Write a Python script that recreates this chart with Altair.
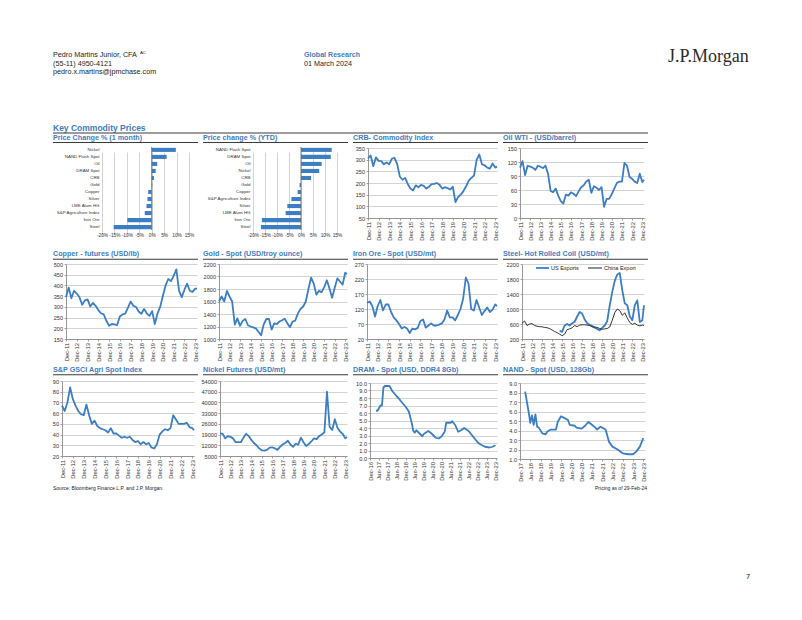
import altair as alt
import pandas as pd

FONT = "Liberation Sans"
SERIF = "Liberation Serif"
BLUE = "#3B7EC3"
TITLE_BLUE = "#3F7CBF"
INK = "#222222"
RULE = "#3A3A3A"
AXC = "#8C8C8C"
XLAB = 5.8
YLAB = 5.6

# ---------------- bar panels ----------------
month_cats = ["Nickel", "NAND Flash Spot", "Oil", "DRAM Spot", "CRB", "Gold", "Copper",
              "Silver", "LME Alum HG", "S&P Agriculture Index", "Iron Ore", "Steel"]
month_vals = [9.7, 6.0, 2.2, 1.6, 0.9, 0.2, -1.4, -1.7, -2.1, -2.8, -9.8, -15.3]
ytd_cats = ["NAND Flash Spot", "DRAM Spot", "Oil", "Nickel", "CRB", "Gold", "Copper",
            "S&P Agriculture Index", "Silver", "LME Alum HG", "Iron Ore", "Steel"]
ytd_vals = [12.8, 12.4, 8.6, 7.6, 4.2, -0.6, -1.4, -4.0, -5.7, -6.4, -16.3, -16.7]
pct_ticks = [-20, -15, -10, -5, 0, 5, 10, 15]

# ---------------- quarterly observations Dec-11 ... Dec-23, then Feb-24 ----------------
quarter_months = []
yy, mm = 2011, 12
for _ in range(49):
    quarter_months.append(f"{yy}-{mm:02d}")
    mm += 3
    if mm > 12:
        mm -= 12
        yy += 1
quarter_months.append("2024-02")

crb = [305, 318, 272, 310, 295, 294, 280, 288, 280, 304, 308, 282, 228, 214, 222, 196, 176,
       168, 190, 182, 192, 188, 176, 184, 195, 196, 200, 192, 176, 182, 178, 172, 184, 118,
       140, 150, 165, 186, 210, 222, 232, 300, 322, 280, 276, 266, 262, 284, 266, 270]
oil = [108, 122, 92, 112, 110, 108, 103, 112, 110, 107, 112, 95, 58, 55, 63, 48, 36, 31, 50,
       48, 55, 52, 47, 57, 66, 70, 78, 82, 54, 68, 65, 60, 66, 24, 41, 41, 51, 63, 75, 78, 78,
       118, 112, 88, 84, 78, 75, 95, 77, 82]
copper = [345, 390, 340, 375, 362, 345, 310, 330, 335, 302, 318, 305, 285, 270, 265, 235, 212,
          220, 218, 215, 255, 265, 268, 295, 325, 305, 300, 278, 268, 290, 270, 258, 280, 220,
          270, 300, 352, 400, 430, 420, 445, 475, 375, 345, 380, 408, 375, 370, 385, 385]
gold = [1600, 1680, 1600, 1770, 1680, 1600, 1230, 1330, 1210, 1290, 1320, 1220, 1200, 1185,
        1170, 1115, 1060, 1235, 1320, 1320, 1150, 1250, 1240, 1280, 1300, 1325, 1250, 1190,
        1280, 1295, 1410, 1480, 1520, 1600, 1800, 1980, 1890, 1710, 1770, 1750, 1830, 1940,
        1810, 1660, 1820, 1970, 1920, 1870, 2060, 2040]
iron = [140, 145, 130, 95, 130, 150, 115, 135, 135, 110, 92, 82, 70, 55, 60, 55, 40, 55, 52, 57,
        80, 85, 58, 65, 72, 65, 65, 68, 72, 85, 115, 92, 92, 82, 100, 120, 155, 225, 205, 120,
        115, 150, 125, 100, 113, 125, 110, 118, 135, 130]
agri = [67, 62, 70, 84, 73, 67, 62, 59, 58, 68, 58, 50, 53, 48, 46, 45, 44, 42, 46, 41, 41, 39,
        37, 38, 37, 38, 35, 33, 34, 31, 33, 31, 32, 28, 27, 31, 40, 43, 45, 44, 46, 58, 54, 50,
        50, 50, 51, 47, 46, 44]
nickel = [20000, 19500, 16500, 18000, 17500, 16500, 14000, 14000, 14000, 17000, 19500, 18000,
          15500, 13500, 12000, 10000, 8700, 8500, 9000, 10500, 10700, 10000, 9000, 11000, 12500,
          13500, 15000, 12500, 11000, 13000, 12500, 17000, 14000, 11500, 12800, 14500, 16500,
          16000, 18000, 19000, 20500, 47000, 24000, 22000, 29000, 23500, 21000, 19500, 16500,
          17500]
steel_china = [620, 680, 560, 600, 610, 560, 540, 530, 525, 510, 500, 480, 440, 400, 370, 330,
               290, 330, 450, 470, 500, 560, 530, 570, 580, 580, 570, 560, 520, 520, 510, 480,
               460, 470, 480, 520, 700, 900, 1000, 960, 830, 900, 760, 640, 590, 620, 570, 550,
               570, 560]
us_months = quarter_months[15:]          # Sep-15 onwards
steel_us = [420, 390, 560, 600, 560, 620, 660, 800, 920, 880, 720, 620, 580, 550, 500, 470, 430,
            500, 560, 680, 1100, 1450, 1750, 1920, 1960, 1500, 1150, 1100, 800, 700, 1100, 1230,
            650, 700, 1100]
steel_series = ["US Exports", "China Export"]

dram_months = ["2017-04", "2017-05", "2017-07", "2017-08", "2017-09", "2017-10", "2018-01",
               "2018-03", "2018-06", "2018-07", "2018-09", "2018-12", "2019-02", "2019-04",
               "2019-05", "2019-06", "2019-07", "2019-09", "2019-11", "2019-12", "2020-03",
               "2020-05", "2020-08", "2020-10", "2020-12", "2021-02", "2021-03", "2021-06",
               "2021-07", "2021-09", "2021-11", "2022-01", "2022-03", "2022-06", "2022-08",
               "2022-10", "2022-12", "2023-02", "2023-05", "2023-08", "2023-10", "2023-12"]
dram = [6.3, 6.3, 7.0, 7.0, 9.4, 9.6, 9.6, 8.9, 8.2, 8.0, 7.5, 6.8, 6.2, 4.6, 3.6, 3.4, 3.7, 3.3,
        2.9, 3.2, 3.6, 3.3, 2.7, 2.6, 2.9, 3.5, 4.7, 4.7, 4.9, 4.4, 3.5, 3.7, 4.0, 3.6, 3.1, 2.6,
        2.1, 1.8, 1.5, 1.4, 1.5, 1.7]
nand_months = ["2018-03", "2018-05", "2018-06", "2018-07", "2018-08", "2018-09", "2018-10",
               "2018-11", "2019-01", "2019-03", "2019-04", "2019-06", "2019-09", "2019-10",
               "2019-12", "2020-02", "2020-04", "2020-05", "2020-08", "2020-09", "2020-12",
               "2021-02", "2021-04", "2021-06", "2021-08", "2021-09", "2021-11", "2022-02",
               "2022-04", "2022-06", "2022-09", "2022-12", "2023-03", "2023-06", "2023-08",
               "2023-10", "2023-12"]
nand = [8.1, 6.0, 4.8, 5.6, 4.6, 5.7, 4.4, 4.3, 3.7, 3.6, 3.9, 4.1, 4.1, 4.9, 5.5, 5.3, 5.1, 4.6,
        4.5, 4.3, 4.2, 4.5, 4.9, 4.6, 4.3, 4.1, 4.4, 4.1, 2.8, 2.3, 2.0, 1.6, 1.5, 1.5, 1.8, 2.3,
        3.2]

# y-axis tick labels
crb_ticks = [50, 100, 150, 200, 250, 300, 350]
oil_ticks = [0, 30, 60, 90, 120, 150]
copper_ticks = [150, 200, 250, 300, 350, 400, 450, 500]
gold_ticks = [1000, 1200, 1400, 1600, 1800, 2000, 2200]
iron_ticks = [20, 70, 120, 170, 220, 270]
steel_ticks = [200, 600, 1000, 1400, 1800, 2200]
agri_ticks = [20, 30, 40, 50, 60, 70, 80, 90]
nickel_ticks = [5000, 12000, 19000, 26000, 33000, 40000, 47000, 54000]
dram_ticks = [0, 1, 2, 3, 4, 5, 6, 7, 8, 9, 10]
nand_ticks = [1, 2, 3, 4, 5, 6, 7, 8, 9]


def dec_year(s):
    y, m = s.split("-")
    return int(y) + (int(m) - 1) / 12.0


MAIN_DOM = [dec_year("2011-12"), dec_year("2024-02")]
MAIN_TICKS = [y + 11 / 12.0 for y in range(2011, 2024)]
DEC_EXPR = "'Dec-' + format(floor(datum.value) % 100, '02d')"
HALF_EXPR = "(datum.value % 1 > 0.6 ? 'Dec-' : 'Jun-') + format(floor(datum.value) % 100, '02d')"
DRAM_DOM = [dec_year("2016-12"), dec_year("2024-01")]
DRAM_TICKS = [dec_year("2016-12") + 0.5 * k for k in range(15)]
NAND_DOM = [dec_year("2017-12"), dec_year("2024-01")]
NAND_TICKS = [dec_year("2017-12") + 0.5 * k for k in range(13)]

# page geometry: a 5 x 4 grid of fixed cells (header, three chart rows, footer)
COL_EDGES = [8, 201, 351, 501, 651]
ROW_EDGES = [8, 134, 248, 365, 484, 600]
TITLE_Y = [None, 138.3, 254.3, 369.5]
LINE_Y = [None, 142.5, 259.3, 374.7]


def one(s):
    return pd.DataFrame({"s": [s]})


def label(s, px, py, ox, oy, size, color=INK, weight="normal", align="left",
          font=FONT, baseline="middle"):
    return alt.Chart(one(s)).mark_text(
        align=align, baseline=baseline, font=font, fontSize=size,
        fontWeight=weight, color=color
    ).encode(x=alt.value(px - ox), y=alt.value(py - oy), text="s:N")


def hrule(l, r, y, ox, oy, color=RULE, width=1.0):
    return alt.Chart(one("")).mark_rule(color=color, strokeWidth=width).encode(
        x=alt.value(l - ox), x2=alt.value(r - ox), y=alt.value(y - oy))


def plain_cell(row, col, layers):
    ox, oy = COL_EDGES[col], ROW_EDGES[row]
    if not layers:
        layers = [label("", ox + 2, oy + 2, ox, oy, 5)]
    return alt.layer(*layers).properties(
        width=COL_EDGES[col + 1] - COL_EDGES[col], height=ROW_EDGES[row + 1] - ROW_EDGES[row])


class Cell:
    def __init__(self, row, col, plotL, plotT, plotR, plotB):
        self.row, self.col = row, col
        self.cl, self.cr = COL_EDGES[col], COL_EDGES[col + 1]
        self.ct, self.cb = ROW_EDGES[row], ROW_EDGES[row + 1]
        self.W = self.cr - self.cl
        self.H = self.cb - self.ct
        self.a = plotL - self.cl
        self.b = plotR - self.cl
        self.c = plotT - self.ct
        self.d = plotB - self.ct

    def frame(self, title):
        ul = 53 + 150 * self.col
        return [hrule(ul, ul + 145, LINE_Y[self.row], self.cl, self.ct, width=1.1),
                label(title, ul, TITLE_Y[self.row], self.cl, self.ct, 7.2, TITLE_BLUE, "bold")]

    def x_enc(self, dom, ticks, expr):
        return alt.X("t:Q", title=None,
                     scale=alt.Scale(domain=dom, range=[self.a, self.b], nice=False, zero=False),
                     axis=alt.Axis(values=ticks, labelExpr=expr, labelAngle=270, grid=False,
                                   labelFlush=False, labelOverlap=False, labelFontSize=XLAB,
                                   labelPadding=1.5, tickSize=2, offset=self.d - self.H))

    def y_enc(self, dom, ticks, fmt):
        return alt.Y("v:Q", title=None,
                     scale=alt.Scale(domain=dom, range=[self.d, self.c], nice=False, zero=False),
                     axis=alt.Axis(values=ticks, format=fmt, grid=True, labelOverlap=False,
                                   labelFontSize=YLAB, labelPadding=1.5, tickSize=2,
                                   offset=-self.a))


def ts_panel(row, col, title, plotL, plotT, plotR, plotB, months, values, ydom, yticks,
             yfmt="d", xdom=MAIN_DOM, xticks=MAIN_TICKS, xexpr=DEC_EXPR):
    cell = Cell(row, col, plotL, plotT, plotR, plotB)
    df = pd.DataFrame({"t": [dec_year(m) for m in months], "v": values})
    line = alt.Chart(df).mark_line(color=BLUE, strokeWidth=1.8, strokeJoin="round").encode(
        x=cell.x_enc(xdom, xticks, xexpr), y=cell.y_enc(ydom, yticks, yfmt))
    return alt.layer(line, *cell.frame(title)).properties(width=cell.W, height=cell.H)


def bar_panel(row, col, title, plotL, plotT, plotR, plotB, cats, vals):
    cell = Cell(row, col, plotL, plotT, plotR, plotB)
    df = pd.DataFrame({"c": cats, "v": vals})
    x = alt.X("v:Q", title=None,
              scale=alt.Scale(domain=[-20, 15], range=[cell.a, cell.b], nice=False, zero=False),
              axis=alt.Axis(values=pct_ticks, labelExpr="datum.value + '%'", grid=True,
                            domain=False, ticks=False, labelFlush=False, labelOverlap=False,
                            labelFontSize=4.8, labelPadding=2, offset=cell.d - cell.H))
    y = alt.Y("c:N", title=None, sort=cats,
              scale=alt.Scale(range=[cell.c, cell.d], paddingInner=0.42, paddingOuter=0.12),
              axis=alt.Axis(domain=False, ticks=False, labelFontSize=4.4, labelPadding=3,
                            labelLimit=120, offset=-cell.a))
    bars = alt.Chart(df).mark_bar(color=BLUE).encode(x=x, y=y)
    zero = alt.Chart(pd.DataFrame({"v": [0]})).mark_rule(color="#707070", strokeWidth=0.9).encode(
        x=x, y=alt.value(cell.c), y2=alt.value(cell.d))
    return alt.layer(bars, zero, *cell.frame(title)).properties(width=cell.W, height=cell.H)


def steel_panel(row, col, title, plotL, plotT, plotR, plotB):
    cell = Cell(row, col, plotL, plotT, plotR, plotB)
    t = [dec_year(m) for m in us_months] + [dec_year(m) for m in quarter_months]
    s = [steel_series[0]] * len(steel_us) + [steel_series[1]] * len(steel_china)
    df = pd.DataFrame({"t": t, "v": steel_us + steel_china, "s": s})
    line = alt.Chart(df).mark_line(strokeJoin="round").encode(
        x=cell.x_enc(MAIN_DOM, MAIN_TICKS, DEC_EXPR),
        y=cell.y_enc([200, 2200], steel_ticks, "d"),
        color=alt.Color("s:N", scale=alt.Scale(domain=steel_series, range=[BLUE, "#1E1E1E"]),
                        legend=None),
        strokeWidth=alt.StrokeWidth("s:N", scale=alt.Scale(domain=steel_series, range=[1.8, 0.9]),
                                    legend=None),
    )
    ox, oy = cell.cl, cell.ct
    key = [
        hrule(536, 549, 268, ox, oy, color=BLUE, width=1.8),
        label(steel_series[0], 551, 268, ox, oy, 5.5),
        hrule(588, 602, 268, ox, oy, color="#1E1E1E", width=1.0),
        label(steel_series[1], 604, 268, ox, oy, 5.5),
    ]
    return alt.layer(line, *key, *cell.frame(title)).properties(width=cell.W, height=cell.H)


# ---------------- header row ----------------
h0x, h0y = COL_EDGES[0], ROW_EDGES[0]
h1x = COL_EDGES[1]
h3x = COL_EDGES[3]
header_cells = [
    plain_cell(0, 0, [
        label("Pedro Martins Junior, CFA", 53, 55, h0x, h0y, 7.2),
        label("AC", 140, 52.5, h0x, h0y, 4.3),
        label("(55-11) 4950-4121", 53, 63.5, h0x, h0y, 7.2),
        label("pedro.x.martins@jpmchase.com", 53, 72, h0x, h0y, 7.2),
        label("Key Commodity Prices", 53, 127.5, h0x, h0y, 8.5, TITLE_BLUE, "bold"),
        hrule(53, 648, 133, h0x, h0y, width=1.1),
    ]),
    plain_cell(0, 1, [
        label("Global Research", 304, 55, h1x, h0y, 7.1, TITLE_BLUE, "bold"),
        label("01 March 2024", 304, 63.5, h1x, h0y, 7.2),
    ]),
    plain_cell(0, 2, []),
    plain_cell(0, 3, [
        label("J.P.Morgan", 668, 61.5, h3x, h0y, 18, "#2B2B2B", font=SERIF, baseline="alphabetic"),
    ]),
]

# ---------------- chart rows ----------------
row1 = [
    bar_panel(1, 0, "Price Change % (1 month)", 102, 147, 189, 230, month_cats, month_vals),
    bar_panel(1, 1, "Price change % (YTD)", 253, 147, 337, 230, ytd_cats, ytd_vals),
    ts_panel(1, 2, "CRB- Commodity Index", 368, 148, 497, 218, quarter_months, crb,
             [50, 350], crb_ticks),
    ts_panel(1, 3, "Oil WTI - (USD/barrel)", 520, 148, 644, 218, quarter_months, oil,
             [0, 150], oil_ticks),
]
row2 = [
    ts_panel(2, 0, "Copper - futures (USD/lb)", 66, 264, 197, 339, quarter_months, copper,
             [150, 500], copper_ticks),
    ts_panel(2, 1, "Gold - Spot (USD/troy ounce)", 219, 264, 347, 339, quarter_months, gold,
             [1000, 2200], gold_ticks),
    ts_panel(2, 2, "Iron Ore - Spot (USD/mt)", 367, 264, 497, 339, quarter_months, iron,
             [20, 270], iron_ticks),
    steel_panel(2, 3, "Steel- Hot Rolled Coil (USD/mt)", 522, 264, 644, 339),
]
row3 = [
    ts_panel(3, 0, "S&P GSCI Agri Spot Index", 62, 381, 194, 456, quarter_months, agri,
             [20, 90], agri_ticks),
    ts_panel(3, 1, "Nickel Futures (USD/mt)", 220, 381, 347, 456, quarter_months, nickel,
             [5000, 54000], nickel_ticks),
    ts_panel(3, 2, "DRAM - Spot (USD, DDR4 8Gb)", 370, 383, 497, 458, dram_months, dram,
             [0, 10], dram_ticks, ".1f", DRAM_DOM, DRAM_TICKS, HALF_EXPR),
    ts_panel(3, 3, "NAND - Spot (USD, 128Gb)", 520, 383, 645, 459, nand_months, nand,
             [1, 9], nand_ticks, ".1f", NAND_DOM, NAND_TICKS, HALF_EXPR),
]

# ---------------- footer row ----------------
f0y = ROW_EDGES[4]
footer_cells = [
    plain_cell(4, 0, [
        label("Source: Bloomberg Finance L.P. and J.P. Morgan.", 53, 487.5, COL_EDGES[0], f0y, 5),
    ]),
    plain_cell(4, 1, []),
    plain_cell(4, 2, []),
    plain_cell(4, 3, [
        label("Pricing as of 29-Feb-24", 647, 487.5, COL_EDGES[3], f0y, 5, align="right"),
        label("7", 746, 577, COL_EDGES[3], f0y, 7.5),
    ]),
]

chart = alt.concat(
    *header_cells, *row1, *row2, *row3, *footer_cells,
    columns=4, spacing=0, bounds="flush"
).properties(
    padding=0
).configure_view(strokeWidth=0).configure_axis(
    labelFont=FONT, labelColor="#333333", gridColor="#C8C8C8", gridWidth=0.8,
    domainColor=AXC, tickColor=AXC, domainWidth=0.9, tickWidth=0.8
)

chart.save("out.html", embed_options={"renderer": "svg", "actions": False})
